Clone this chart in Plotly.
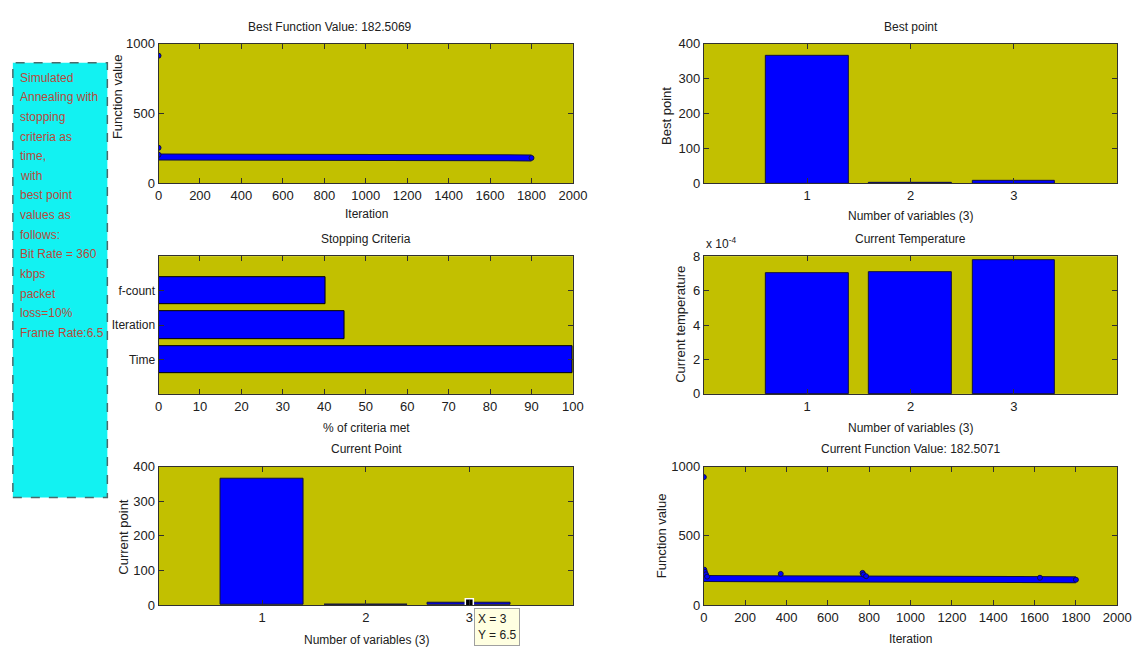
import plotly.graph_objects as go

W, H = 1147, 655

# ---------------- data ----------------
# Best Function Value (top-left)
best_band_iter = [0, 1600, 1600, 1800]
best_band_val = [189, 189, 182.5, 182.5]
best_pts_iter = [0, 0, 0, 1800]
best_pts_val = [915, 255, 205, 182.5]

# Stopping criteria (middle-left)
crit_labels = ["Time", "Iteration", "f-count"]
crit_pos = [1, 2, 3]
crit_vals = [100, 45, 40.3]

# Current point (bottom-left)
var_idx = [1, 2, 3]
current_point = [365, 1.2, 6.5]

# Best point (top-right)
best_point = [365, 1.2, 6.5]

# Current temperature (middle-right)
current_temp = [7.02e-4, 7.10e-4, 7.75e-4]
temp_ticks = [0, 2e-4, 4e-4, 6e-4, 8e-4]
temp_ticktext = ["0", "2", "4", "6", "8"]

# Current Function Value (bottom-right)
cur_band_iter = [0, 1600, 1600, 1800]
cur_band_val = [191, 191, 182.5, 182.5]
cur_pts_iter = [0, 2, 5, 10, 16, 372, 768, 772, 785, 1626, 1800]
cur_pts_val = [925, 255, 240, 222, 205, 225, 232, 220, 208, 197, 182.5]

# Text box
box_lines = ["Simulated", "Annealing with", "stopping", "criteria as", "time,",
             "with", "best point", "values as", "follows:", "Bit Rate = 360",
             "kbps", "packet", "loss=10%", "Frame Rate:6.5"]

# ---------------- style ----------------
NARROW = "Liberation Sans Narrow, Arial Narrow, Liberation Sans, Arial, sans-serif"
SANS = "Liberation Sans, Arial, sans-serif"
BG = "#c2c000"
BLUE = "#0000ff"
EDGE = "#101040"
AX = "#303030"


def px(x):
    return x / W


def py(y):
    return 1 - y / H


LEFT = [px(157), px(578)]
RIGHT = [px(711), px(1131)]
ROW1 = [py(180.5), py(37.7)]
ROW2 = [py(396), py(255)]
ROW3 = [py(612), py(470.5)]

fig = go.Figure()

# top-left
fig.add_trace(go.Scatter(x=best_band_iter, y=best_band_val, mode="lines",
                         line=dict(color=EDGE, width=7), xaxis="x", yaxis="y"))
fig.add_trace(go.Scatter(x=best_band_iter, y=best_band_val, mode="lines",
                         line=dict(color=BLUE, width=5), xaxis="x", yaxis="y"))
fig.add_trace(go.Scatter(x=best_pts_iter, y=best_pts_val, mode="markers",
                         marker=dict(color=BLUE, size=5, line=dict(color=EDGE, width=1)),
                         xaxis="x", yaxis="y"))

# middle-left
fig.add_trace(go.Bar(x=crit_vals, y=crit_pos, orientation="h", width=0.8,
                     marker=dict(color=BLUE, line=dict(color="#000000", width=1)),
                     xaxis="x2", yaxis="y2"))

# bottom-left
fig.add_trace(go.Bar(x=var_idx, y=current_point, width=0.8,
                     marker=dict(color=BLUE, line=dict(color=EDGE, width=1)),
                     xaxis="x3", yaxis="y3"))
# data tip marker
fig.add_trace(go.Scatter(x=[var_idx[2]], y=[current_point[2]], mode="markers",
                         marker=dict(symbol="square", color="#000000", size=8,
                                     line=dict(color="#ffffff", width=1.5)),
                         xaxis="x3", yaxis="y3"))

# top-right
fig.add_trace(go.Bar(x=var_idx, y=best_point, width=0.8,
                     marker=dict(color=BLUE, line=dict(color=EDGE, width=1)),
                     xaxis="x4", yaxis="y4"))

# middle-right
fig.add_trace(go.Bar(x=var_idx, y=current_temp, width=0.8,
                     marker=dict(color=BLUE, line=dict(color=EDGE, width=1)),
                     xaxis="x5", yaxis="y5"))

# bottom-right
fig.add_trace(go.Scatter(x=cur_band_iter, y=cur_band_val, mode="lines",
                         line=dict(color=EDGE, width=7), xaxis="x6", yaxis="y6"))
fig.add_trace(go.Scatter(x=cur_band_iter, y=cur_band_val, mode="lines",
                         line=dict(color=BLUE, width=5), xaxis="x6", yaxis="y6"))
fig.add_trace(go.Scatter(x=cur_pts_iter, y=cur_pts_val, mode="markers",
                         marker=dict(color=BLUE, size=5, line=dict(color=EDGE, width=1)),
                         xaxis="x6", yaxis="y6"))

axbase = dict(showline=True, linecolor=AX, linewidth=1, mirror="ticks",
              ticks="inside", ticklen=5, tickcolor=AX, showgrid=False,
              zeroline=False, fixedrange=True,
              tickfont=dict(family=NARROW, size=13, color="#202020"))

iter_ticks = list(range(0, 2001, 200))

layout = dict(
    width=W, height=H, margin=dict(l=0, r=0, t=0, b=0),
    paper_bgcolor="#ffffff", plot_bgcolor=BG, showlegend=False,
    bargap=0,
    xaxis=dict(axbase, domain=LEFT, anchor="y", range=[0, 2000], tickvals=iter_ticks),
    yaxis=dict(axbase, domain=ROW1, anchor="x", range=[0, 1000], tickvals=[0, 500, 1000]),
    xaxis2=dict(axbase, domain=LEFT, anchor="y2", range=[0, 100], tickvals=list(range(0, 101, 10))),
    yaxis2=dict(axbase, domain=ROW2, anchor="x2", range=[0, 4], tickvals=crit_pos, ticktext=crit_labels,
                tickfont=dict(family=NARROW, size=12, color="#202020")),
    xaxis3=dict(axbase, domain=LEFT, anchor="y3", range=[0, 4], tickvals=var_idx),
    yaxis3=dict(axbase, domain=ROW3, anchor="x3", range=[0, 400], tickvals=[0, 100, 200, 300, 400]),
    xaxis4=dict(axbase, domain=RIGHT, anchor="y4", range=[0, 4], tickvals=var_idx),
    yaxis4=dict(axbase, domain=ROW1, anchor="x4", range=[0, 400], tickvals=[0, 100, 200, 300, 400]),
    xaxis5=dict(axbase, domain=RIGHT, anchor="y5", range=[0, 4], tickvals=var_idx),
    yaxis5=dict(axbase, domain=ROW2, anchor="x5", range=[0, 8e-4], tickvals=temp_ticks, ticktext=temp_ticktext),
    xaxis6=dict(axbase, domain=RIGHT, anchor="y6", range=[0, 2000], tickvals=iter_ticks),
    yaxis6=dict(axbase, domain=ROW3, anchor="x6", range=[0, 1000], tickvals=[0, 500, 1000]),
)
fig.update_layout(**layout)

ann = []


def text(x, y, s, size=12, family=NARROW, angle=0, color="#202020", xanchor="center"):
    ann.append(dict(x=px(x), y=py(y), xref="paper", yref="paper", text=s,
                    showarrow=False, xanchor=xanchor, yanchor="middle",
                    textangle=angle, font=dict(family=family, size=size, color=color)))


# titles
text(331, 20.5, "Best Function Value: 182.5069")
text(921, 20.5, "Best point")
text(368, 237.5, "Stopping Criteria")
text(921, 237.5, "Current Temperature")
text(368, 452.5, "Current Point")
text(921, 452, "Current Function Value: 182.5071")
# x labels
text(368, 212, "Iteration")
text(921, 214, "Number of variables (3)")
text(368, 430.5, "% of criteria met")
text(921, 430.5, "Number of variables (3)")
text(368, 647.5, "Number of variables (3)")
text(921, 646.5, "Iteration")
# y labels
text(116, 92, "Function value", size=13, family=SANS, angle=-90)
text(673, 111, "Best point", size=13, family=SANS, angle=-90)
text(687, 325, "Current temperature", size=13, family=SANS, angle=-90)
text(122, 542, "Current point", size=13, family=SANS, angle=-90)
text(668, 541, "Function value", size=13, family=SANS, angle=-90)
# exponent
text(711, 242, "x 10<sup>-4</sup>", size=12, xanchor="left")

# text box lines
for i, s in enumerate(box_lines):
    text(14, 72.3 + i * 20.1, s, size=12, color="#b84a3a", xanchor="left")

# data tip
ann.append(dict(x=px(477), y=py(615), xref="paper", yref="paper",
                text="X = 3<br>Y = 6.5", showarrow=False, xanchor="left", yanchor="top",
                align="left", bgcolor="#ffffe1", bordercolor="#a0a0a0", borderwidth=1,
                borderpad=3, font=dict(family=NARROW, size=12, color="#202020")))

fig.update_layout(annotations=ann)

fig.add_shape(type="rect", xref="paper", yref="paper",
              x0=px(9), x1=px(105), y0=py(502), y1=py(57),
              fillcolor="#12f2f2", line=dict(color="#4a6a6a", width=1.5, dash="dash"),
              layer="below")

fig.write_html("out.html")
